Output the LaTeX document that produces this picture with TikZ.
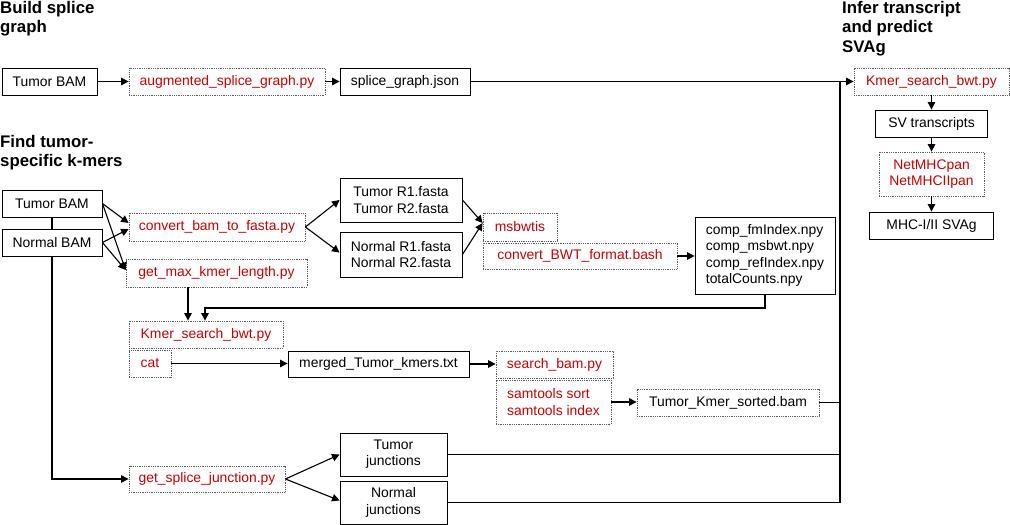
\documentclass[tikz,border=0pt]{standalone}
\usepackage{fontspec}
\setmainfont{Liberation Sans}
\usetikzlibrary{arrows.meta,calc}
\definecolor{codered}{RGB}{204,0,0}
\definecolor{dotgray}{RGB}{90,90,90}
\begin{document}
\begin{tikzpicture}[x=1pt,y=-1pt,
  every node/.style={font=\fontsize{13.9}{16.3}\selectfont, inner sep=0pt},
  solidbox/.style={draw=black, line width=0.9pt, align=center},
  dotbox/.style={draw=dotgray, line width=0.8pt, densely dotted, text=codered, align=center},
  title/.style={font=\fontsize{16.8}{19.5}\selectfont\bfseries, align=left, anchor=north west},
  arr/.style={line width=1.1pt, -{Triangle[length=7.5pt,width=7.5pt]}},
  ln/.style={line width=1.1pt},
  sz/.style 2 args={minimum width=#1pt, minimum height=#2pt}
]
\useasboundingbox (0,0) rectangle (1010,525);

% titles
\node[title] (t1) at (0,1) {Build splice\\graph};
\node[title] (t2) at (0,135) {Find tumor-\\specific k-mers};
\node[title] (t3) at (842,1) {Infer transcript\\and predict\\SVAg};

% row 1
\node[solidbox, sz={95}{27}] (tb1) at (49.5,81.5) {Tumor BAM};
\node[dotbox, sz={196}{27}] (asg) at (227,81.5) {augmented\_splice\_graph.py};
\node[solidbox, sz={130}{27}] (sgj) at (405,81.5) {splice\_graph.json};

% right column
\node[dotbox, sz={155}{27}] (ksr) at (931.5,81.5) {Kmer\_search\_bwt.py};
\node[solidbox, sz={112}{27}] (svt) at (931.5,123.5) {SV transcripts};
\node[dotbox, sz={105}{44}] (net) at (931.5,174) {NetMHCpan\\NetMHCIIpan};
\node[solidbox, sz={124}{27}] (mhc) at (931.5,225.5) {MHC-I/II SVAg};

% k-mer section
\node[solidbox, sz={100}{27}] (tb2) at (52,203.5) {Tumor BAM};
\node[solidbox, sz={100}{27}] (nb) at (52,242.5) {Normal BAM};
\node[dotbox, sz={176}{28}] (cbf) at (217,227) {convert\_bam\_to\_fasta.py};
\node[dotbox, sz={181}{28}] (gmk) at (216.5,273) {get\_max\_kmer\_length.py};
\node[solidbox, sz={122}{44}] (tf) at (401,200) {Tumor R1.fasta\\Tumor R2.fasta};
\node[solidbox, sz={122}{45}] (nf) at (401,254.5) {Normal R1.fasta\\Normal R2.fasta};
\node[dotbox, sz={74}{28}] (msb) at (520,227) {msbwtis};
\node[dotbox, sz={194}{26}] (cbw) at (580,256) {convert\_BWT\_format.bash};
\node[solidbox, sz={140}{77}, align=left] (comp) at (765,255.5) {comp\_fmIndex.npy\\comp\_msbwt.npy\\comp\_refIndex.npy\\totalCounts.npy};
\node[dotbox, sz={154}{27}] (ksm) at (206,334.5) {Kmer\_search\_bwt.py};
\node[dotbox, sz={42}{27}] (cat) at (150,363.5) {cat};
\node[solidbox, sz={181}{26}] (mtk) at (378.5,364) {merged\_Tumor\_kmers.txt};
\node[dotbox, sz={117}{27}] (sbp) at (554.5,364.5) {search\_bam.py};
\node[dotbox, sz={115}{44}, align=left] (sam) at (553.5,402) {samtools sort\\samtools index};
\node[dotbox, sz={182}{27}, text=black] (tks) at (728,402.5) {Tumor\_Kmer\_sorted.bam};

% junctions
\node[dotbox, sz={156}{26}] (gsj) at (207,479) {get\_splice\_junction.py};
\node[solidbox, sz={107}{43}] (tj) at (393.5,454.5) {Tumor\\junctions};
\node[solidbox, sz={107}{43}] (nj) at (393.5,502.5) {Normal\\junctions};

% bus
\coordinate (bt) at (840,81.5);
\coordinate (bb) at (840,502.5);
\draw[ln] (bt) -- (bb);

% connectors
\draw[arr] (tb1) -- (asg);
\draw[arr] (asg) -- (sgj);
\draw[arr] (sgj) -- (ksr);
\draw[arr] (ksr) -- (svt);
\draw[arr] (svt) -- (net);
\draw[arr] (net) -- (mhc);

\draw[ln] (tb2) -- (nb);
\draw[arr] (tb2.east) -- ($(cbf.west)+(0,-4)$);
\draw[arr] (tb2.east) -- ($(gmk.west)+(0,-3)$);
\draw[arr] (nb.east) -- ($(cbf.west)+(0,2)$);
\draw[arr] (nb.east) -- ($(gmk.west)+(0,-3)$);
\draw[arr] (cbf.east) -- (tf.west);
\draw[arr] (cbf.east) -- ($(nf.west)+(0,-2)$);
\draw[arr] (tf.east) -- ($(msb.west)+(0,-4)$);
\draw[arr] (nf.east) -- ($(msb.west)+(0,-4)$);
\draw[arr] (cbw.east) -- (cbw.east -| comp.west);

\coordinate (cj) at (205,308);
\draw[arr] (comp.south) |- (cj) -- (cj |- ksm.north);
\coordinate (gx) at (188,0);
\draw[arr] (gx |- gmk.south) -- (gx |- ksm.north);

\draw[arr] (cat.east) -- (cat.east -| mtk.west);
\draw[arr] (mtk.east) -- (mtk.east -| sbp.west);
\draw[arr] (sam.east) -- (sam.east -| tks.west);
\draw[ln] (tks.east) -- (tks.east -| bt);

\draw[arr] (nb.south) |- (gsj.west);
\draw[arr] (gsj.east) -- (tj.west);
\draw[arr] (gsj.east) -- ($(nj.west)+(0,-2)$);
\draw[ln] (tj.east) -- (tj.east -| bt);
\draw[ln] (nj.east) -- (nj.east -| bt);
\end{tikzpicture}
\end{document}
